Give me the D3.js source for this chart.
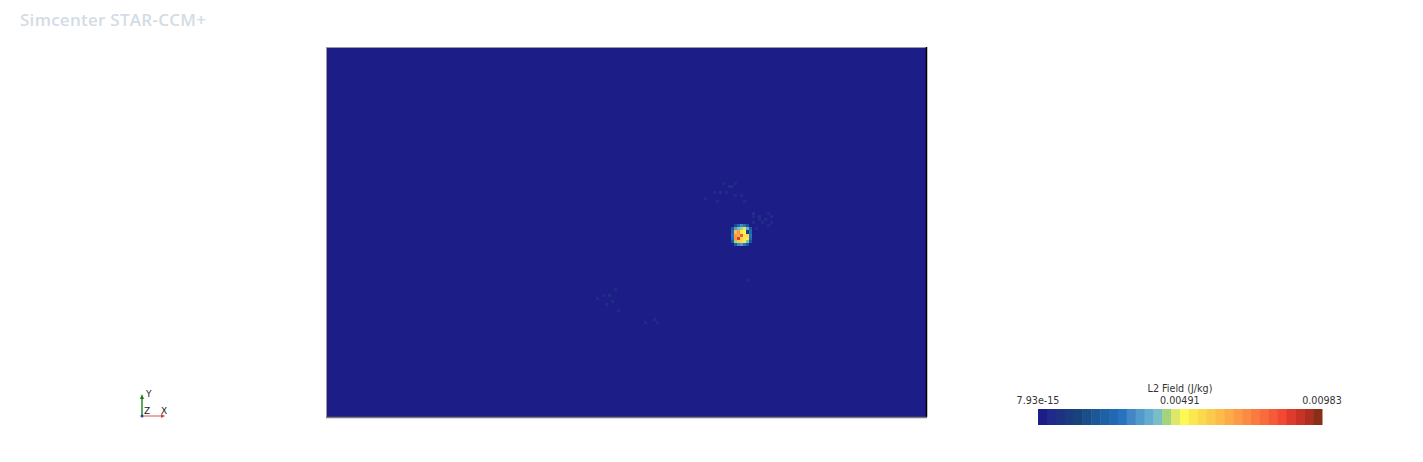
<!DOCTYPE html>
<html><head><meta charset="utf-8">
<script src="https://cdn.jsdelivr.net/npm/d3@7"></script>
<style>body{margin:0;background:#fff;}svg{display:block;}</style>
</head><body>
<svg id="c" width="1423" height="462"></svg>
<script>
// ---- data ----
const fieldMin = 7.93e-15;
const fieldMax = 0.00983;
const tickValues = [7.93e-15, 0.00491, 0.00983];
const tickLabels = ["7.93e-15", "0.00491", "0.00983"];
const paletteColors = ["#1d1d87","#202a8a","#1e3284","#1c3a7f","#18437a","#1a4d8a","#1c5798","#1f61a6","#2269b3","#2873c0","#4286c6","#509acc","#64accf","#79bdc6","#a4d37e","#dce866","#fdf853","#fbe74f","#fbd94c","#fcca4a","#fdbb48","#fdab46","#fc9b44","#fb8b42","#fa7b3f","#f76b3c","#f55b38","#f24a32","#df3a2a","#c93326","#af2e20","#8b2e16"];
const gridCols = 200;
const gridRows = 123;
// sparse non-background cells: column, row, value (J/kg)
const cellCol = [
  136,137,138,139,140,
  135,136,137,138,139,140,141,
  135,136,137,138,139,140,141,
  135,136,137,138,139,140,141,
  135,136,137,138,139,140,141,
  135,136,137,138,139,140,141,
  136,137,138,139,140,
  // speckles
  132,134,135,136,129,131,133,136,138,126,130,139,142,144,147,148,
  142,144,146,148,145,143,147,142,
  96,92,94,95,93,97,90,106,109,110,140
];
const cellRow = [
  59,59,59,59,59,
  60,60,60,60,60,60,60,
  61,61,61,61,61,61,61,
  62,62,62,62,62,62,62,
  63,63,63,63,63,63,63,
  64,64,64,64,64,64,64,
  65,65,65,65,65,
  // speckles
  45,46,46,45,48,48,48,49,49,50,51,51,56,56,55,56,
  55,57,57,58,58,60,59,58,
  80,82,82,84,85,87,83,91,90,91,77
];
const cellValue = [
  0.0016,0.0026,0.0033,0.0029,0.0019,
  0.0019,0.0034,0.0042,0.0045,0.0048,0.0039,0.0022,
  0.0026,0.0064,0.0069,0.0055,0.0051,0.0012,0.0026,
  0.0029,0.0070,0.0067,0.0080,0.0054,0.0057,0.0029,
  0.0026,0.0068,0.0087,0.0058,0.0055,0.0053,0.0026,
  0.0019,0.0045,0.0060,0.0056,0.0054,0.0042,0.0019,
  0.0022,0.0032,0.0035,0.0029,0.0019,
  // speckles
  0.0006,0.0009,0.0006,0.0006,0.0006,0.0009,0.0006,0.0006,0.0006,0.0006,0.0006,0.0006,0.0006,0.0009,0.0006,0.0006,
  0.0009,0.0006,0.0009,0.0006,0.0006,0.0006,0.0006,0.0006,
  0.0006,0.0006,0.0009,0.0006,0.0006,0.0006,0.0006,0.0006,0.0006,0.0006,0.0006
];

// ---- drawing ----
const svg = d3.select("#c");
const plot = {x0: 326, x1: 926, y0: 47, y1: 417};

svg.append("text").attr("x", 20).attr("y", 26)
  .attr("font-family", "Open Sans").attr("font-weight", 600).attr("font-size", 17)
  .attr("fill", "#d3dce5").attr("textLength", 186).text("Simcenter STAR-CCM+");

const color = d3.scaleQuantize().domain([fieldMin, fieldMax]).range(paletteColors);
const xs = d3.scaleLinear().domain([0, gridCols]).range([plot.x0, plot.x1]);
const ys = d3.scaleLinear().domain([0, gridRows]).range([plot.y0, plot.y1]);

svg.append("rect").attr("x", plot.x0).attr("y", plot.y0)
  .attr("width", plot.x1 - plot.x0).attr("height", plot.y1 - plot.y0)
  .attr("fill", color(fieldMin));

const cells = cellCol.map((c, i) => ({c, r: cellRow[i], v: cellValue[i]}));
svg.append("g").selectAll("rect").data(cells).join("rect")
  .attr("x", d => xs(d.c)).attr("y", d => ys(d.r))
  .attr("width", xs(1) - xs(0)).attr("height", ys(1) - ys(0))
  .attr("fill", d => color(d.v)).attr("shape-rendering", "crispEdges");

// borders
svg.append("line").attr("x1", plot.x0 + 0.5).attr("x2", plot.x0 + 0.5).attr("y1", plot.y0).attr("y2", plot.y1)
  .attr("stroke", "#9a9a9a").attr("stroke-width", 1);
svg.append("line").attr("x1", plot.x0).attr("x2", plot.x1).attr("y1", plot.y0 + 0.5).attr("y2", plot.y0 + 0.5)
  .attr("stroke", "#9a9a9a").attr("stroke-width", 1);
svg.append("line").attr("x1", plot.x1 + 0.5).attr("x2", plot.x1 + 0.5).attr("y1", plot.y0).attr("y2", plot.y1)
  .attr("stroke", "#000").attr("stroke-width", 1.5);
svg.append("line").attr("x1", plot.x0).attr("x2", plot.x1 + 1).attr("y1", plot.y1 + 0.5).attr("y2", plot.y1 + 0.5)
  .attr("stroke", "#7a7a7a").attr("stroke-width", 1.5);

// axis triad
const tri = svg.append("g").attr("transform", "translate(142,416)");
tri.append("line").attr("x1", 0).attr("y1", 0).attr("x2", 21).attr("y2", 0).attr("stroke", "#e88a8a").attr("stroke-width", 1.5);
tri.append("path").attr("d", "M19,-2L23,0L19,2Z").attr("fill", "#d04040");
tri.append("line").attr("x1", 0).attr("y1", 0).attr("x2", 0).attr("y2", -19).attr("stroke", "#2a8a2a").attr("stroke-width", 1.5);
tri.append("path").attr("d", "M-2,-17L0,-22L2,-17Z").attr("fill", "#1a7a1a");
tri.append("circle").attr("r", 1.5).attr("fill", "#2040c0");
const triFont = {"font-family": "DejaVu Sans", "font-size": 9, "fill": "#222"};
[["Y", 4, -19], ["Z", 2, -2], ["X", 19, -2]].forEach(([t, x, y]) => {
  const tx = tri.append("text").attr("x", x).attr("y", y).text(t);
  Object.entries(triFont).forEach(([k, v]) => tx.attr(k, v));
});

// colorbar
const cb = {x0: 1038, x1: 1322, y0: 409, y1: 425};
const band = d3.scaleBand().domain(d3.range(paletteColors.length)).range([cb.x0, cb.x1]);
svg.append("g").selectAll("rect").data(paletteColors).join("rect")
  .attr("x", (d, i) => band(i)).attr("y", cb.y0)
  .attr("width", band.bandwidth() + 0.5).attr("height", cb.y1 - cb.y0)
  .attr("fill", d => d);
const cbx = d3.scaleLinear().domain([fieldMin, fieldMax]).range([cb.x0, cb.x1]);
svg.append("g").selectAll("text").data(tickValues).join("text")
  .attr("x", d => cbx(d)).attr("y", 404).attr("text-anchor", "middle")
  .attr("font-family", "DejaVu Sans").attr("font-size", 9.6).attr("fill", "#333")
  .text((d, i) => tickLabels[i]);
svg.append("text").attr("x", (cb.x0 + cb.x1) / 2).attr("y", 392).attr("text-anchor", "middle")
  .attr("font-family", "DejaVu Sans").attr("font-size", 9.6).attr("fill", "#333")
  .text("L2 Field (J/kg)");
</script>
</body></html>
